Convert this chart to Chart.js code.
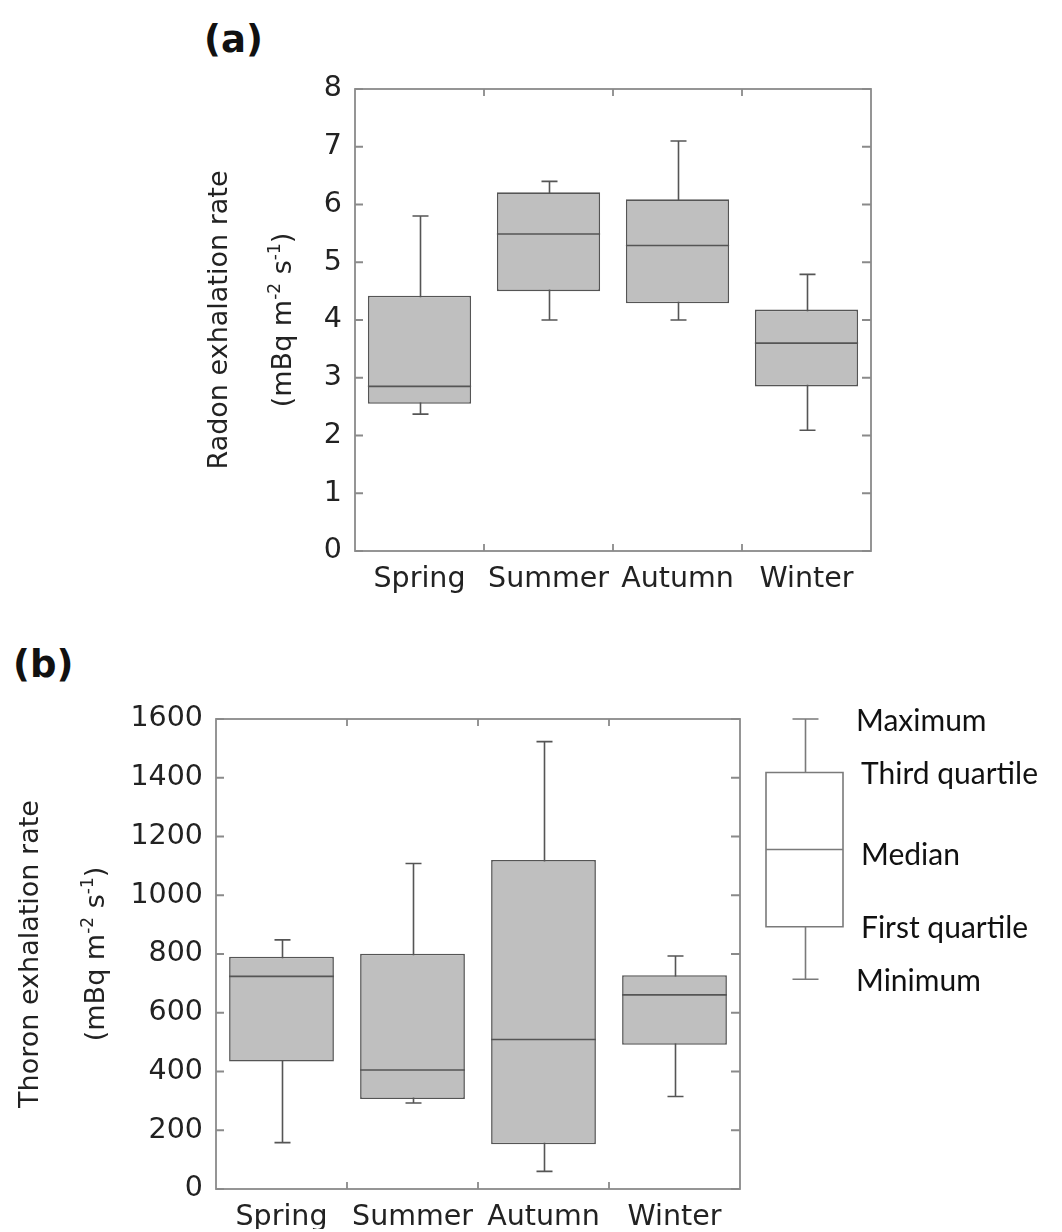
<!DOCTYPE html>
<html>
<head>
<meta charset="utf-8">
<script src="https://cdn.jsdelivr.net/npm/chart.js@4.4.0/dist/chart.umd.min.js"></script>
<style>
  body { margin: 0; background: #fff; }
  #wrap { position: relative; width: 1062px; height: 1232px; overflow: hidden; }
  .tag { position: absolute; font-family: 'DejaVu Sans'; font-weight: bold; font-size: 37px; line-height: 37px; color: #111; }
  canvas { position: absolute; left: 0; }
</style>
</head>
<body>
<div id="wrap">
  <div class="tag" style="left:204px; top:21px;">(a)</div>
  <div class="tag" style="left:13px; top:646px;">(b)</div>
  <canvas id="radon" width="1062" height="620" style="top:0px;"></canvas>
  <canvas id="thoron" width="1062" height="632" style="top:600px;"></canvas>
</div>
<script>
const seasons = ['Spring', 'Summer', 'Autumn', 'Winter'];

// (a) radon exhalation rate, mBq m-2 s-1
const radonMin    = [2.37, 4.0, 4.0, 2.09];
const radonQ1     = [2.55, 4.5, 4.29, 2.85];
const radonMedian = [2.85, 5.49, 5.29, 3.6];
const radonQ3     = [4.42, 6.21, 6.09, 4.18];
const radonMax    = [5.8, 6.4, 7.1, 4.79];

// (b) thoron exhalation rate, mBq m-2 s-1
const thoronMin    = [158, 293, 60, 315];
const thoronQ1     = [434, 306, 152, 491];
const thoronMedian = [724, 405, 509, 661];
const thoronQ3     = [791, 801, 1120, 728];
const thoronMax    = [848, 1108, 1523, 793];

// key box on the right of (b), read on the thoron axis
const keyValues = [714, 893, 1156, 1418, 1600];
const keyLabels = ['Minimum', 'First quartile', 'Median', 'Third quartile', 'Maximum'];

const frameColor = '#8a8a8a';
const boxLine = '#555555';
const boxFill = '#bfbfbf';
const tickFont = { family: 'DejaVu Sans', size: 28.5 };

// whiskers, medians, frame and inward ticks
function boxPlugin(mins, medians, maxs) {
    return {
        id: 'boxPlot',
        beforeDatasetsDraw(chart) {
            const ctx = chart.ctx;
            const y = chart.scales.y;
            const meta = chart.getDatasetMeta(0);
            ctx.save();
            ctx.strokeStyle = boxLine;
            ctx.lineWidth = 1.6;
            meta.data.forEach((bar, i) => {
                const x = Math.round(bar.x) + 0.5;
                const top = y.getPixelForValue(maxs[i]);
                const bot = y.getPixelForValue(mins[i]);
                const cap = 8;
                ctx.beginPath();
                ctx.moveTo(x, top); ctx.lineTo(x, bot);
                ctx.moveTo(x - cap, top); ctx.lineTo(x + cap, top);
                ctx.moveTo(x - cap, bot); ctx.lineTo(x + cap, bot);
                ctx.stroke();
            });
            ctx.restore();
        },
        afterDatasetsDraw(chart) {
            const ctx = chart.ctx;
            const y = chart.scales.y, x = chart.scales.x;
            const area = chart.chartArea;
            const meta = chart.getDatasetMeta(0);
            ctx.save();
            ctx.strokeStyle = boxLine;
            ctx.lineWidth = 1.6;
            meta.data.forEach((bar, i) => {
                const py = y.getPixelForValue(medians[i]);
                ctx.beginPath();
                ctx.moveTo(bar.x - bar.width / 2, py);
                ctx.lineTo(bar.x + bar.width / 2, py);
                ctx.stroke();
            });

            // frame
            ctx.strokeStyle = frameColor;
            ctx.lineWidth = 1.8;
            ctx.strokeRect(area.left, area.top, area.right - area.left, area.bottom - area.top);
            ctx.beginPath();
            y.ticks.forEach(t => {
                const py = y.getPixelForValue(t.value);
                ctx.moveTo(area.left, py); ctx.lineTo(area.left + 8, py);
                ctx.moveTo(area.right, py); ctx.lineTo(area.right - 9, py);
            });
            const step = x.getPixelForValue(1) - x.getPixelForValue(0);
            for (let i = 0; i < seasons.length - 1; i++) {
                const px = x.getPixelForValue(i) + step / 2;
                ctx.moveTo(px, area.bottom); ctx.lineTo(px, area.bottom - 7);
                ctx.moveTo(px, area.top); ctx.lineTo(px, area.top + 7);
            }
            ctx.stroke();
            ctx.restore();
        }
    };
}

// rotated two-line axis title with superscripts
function titlePlugin(lines, baselines) {
    return {
        id: 'axisTitle',
        afterDraw(chart) {
            const ctx = chart.ctx;
            const area = chart.chartArea;
            const yc = (area.top + area.bottom) / 2;
            ctx.save();
            ctx.fillStyle = '#222';
            ctx.textBaseline = 'alphabetic';
            lines.forEach((parts, li) => {
                const fontFor = p => p.sup ? '17px "DejaVu Sans"' : '27px "DejaVu Sans"';
                let total = 0;
                parts.forEach(p => { ctx.font = fontFor(p); total += ctx.measureText(p.t).width; });
                ctx.save();
                ctx.translate(baselines[li], yc);
                ctx.rotate(-Math.PI / 2);
                let u = -total / 2;
                parts.forEach(p => {
                    ctx.font = fontFor(p);
                    ctx.fillText(p.t, u, p.sup ? -11 : 0);
                    u += ctx.measureText(p.t).width;
                });
                ctx.restore();
            });
            ctx.restore();
        }
    };
}

// key box drawn beside panel (b) on its y scale
const keyPlugin = {
    id: 'keyBox',
    afterDraw(chart) {
        const ctx = chart.ctx;
        const y = chart.scales.y;
        const area = chart.chartArea;
        const [vmin, vq1, vmed, vq3, vmax] = keyValues.map(v => y.getPixelForValue(v));
        const left = area.right + 26, right = area.right + 103;
        const cx = Math.round((left + right) / 2) + 0.5;
        ctx.save();
        ctx.strokeStyle = '#7a7a7a';
        ctx.lineWidth = 1.6;
        ctx.beginPath();
        ctx.moveTo(cx, vmax); ctx.lineTo(cx, vq3);
        ctx.moveTo(cx, vq1); ctx.lineTo(cx, vmin);
        ctx.moveTo(cx - 13, vmax); ctx.lineTo(cx + 13, vmax);
        ctx.moveTo(cx - 13, vmin); ctx.lineTo(cx + 13, vmin);
        ctx.moveTo(left, vmed); ctx.lineTo(right, vmed);
        ctx.rect(left, vq3, right - left, vq1 - vq3);
        ctx.stroke();

        ctx.fillStyle = '#111';
        ctx.font = '30px Lato';
        ctx.textBaseline = 'middle';
        keyValues.forEach((v, i) => {
            const py = y.getPixelForValue(v);
            const dx = (i === 0 || i === 4) ? 116 : 121;
            ctx.fillText(keyLabels[i], area.right + dx, py + (i === 2 ? 6 : 2));
        });
        ctx.restore();
    }
};

function makeChart(id, q1, q3, yMax, yStep, leftWidth, padding, xHeight, plugins) {
    return new Chart(document.getElementById(id).getContext('2d'), {
        type: 'bar',
        data: {
            labels: seasons,
            datasets: [{
                data: seasons.map((s, i) => [q1[i], q3[i]]),
                backgroundColor: boxFill,
                borderColor: boxLine,
                borderWidth: 1.6,
                borderSkipped: false,
                categoryPercentage: 0.8,
                barPercentage: 1.0
            }]
        },
        options: {
            responsive: false,
            animation: false,
            layout: { padding: padding },
            plugins: { legend: { display: false }, tooltip: { enabled: false } },
            scales: {
                x: {
                    grid: { display: false, drawTicks: false },
                    border: { display: false },
                    ticks: { font: tickFont, color: '#222', padding: 11, maxRotation: 0 },
                    afterFit: s => { s.height = xHeight; }
                },
                y: {
                    min: 0,
                    max: yMax,
                    grid: { display: false, drawTicks: false },
                    border: { display: false },
                    ticks: { stepSize: yStep, font: tickFont, color: '#222', padding: 13,
                             callback: v => String(v) },
                    afterFit: s => { s.width = leftWidth; }
                }
            }
        },
        plugins: plugins
    });
}

makeChart('radon', radonQ1, radonQ3, 8, 1, 355,
    { left: 0, top: 89, right: 191, bottom: 19 }, 50,
    [boxPlugin(radonMin, radonMedian, radonMax),
     titlePlugin([[{ t: 'Radon exhalation rate' }],
                  [{ t: '(mBq m' }, { t: '-2', sup: true }, { t: ' s' }, { t: '-1', sup: true }, { t: ')' }]],
                 [227, 291])]);

makeChart('thoron', thoronQ1, thoronQ3, 1600, 200, 216,
    { left: 0, top: 119, right: 322, bottom: 3 }, 40,
    [boxPlugin(thoronMin, thoronMedian, thoronMax),
     titlePlugin([[{ t: 'Thoron exhalation rate' }],
                  [{ t: '(mBq m' }, { t: '-2', sup: true }, { t: ' s' }, { t: '-1', sup: true }, { t: ')' }]],
                 [38, 104]),
     keyPlugin]);
</script>
</body>
</html>
